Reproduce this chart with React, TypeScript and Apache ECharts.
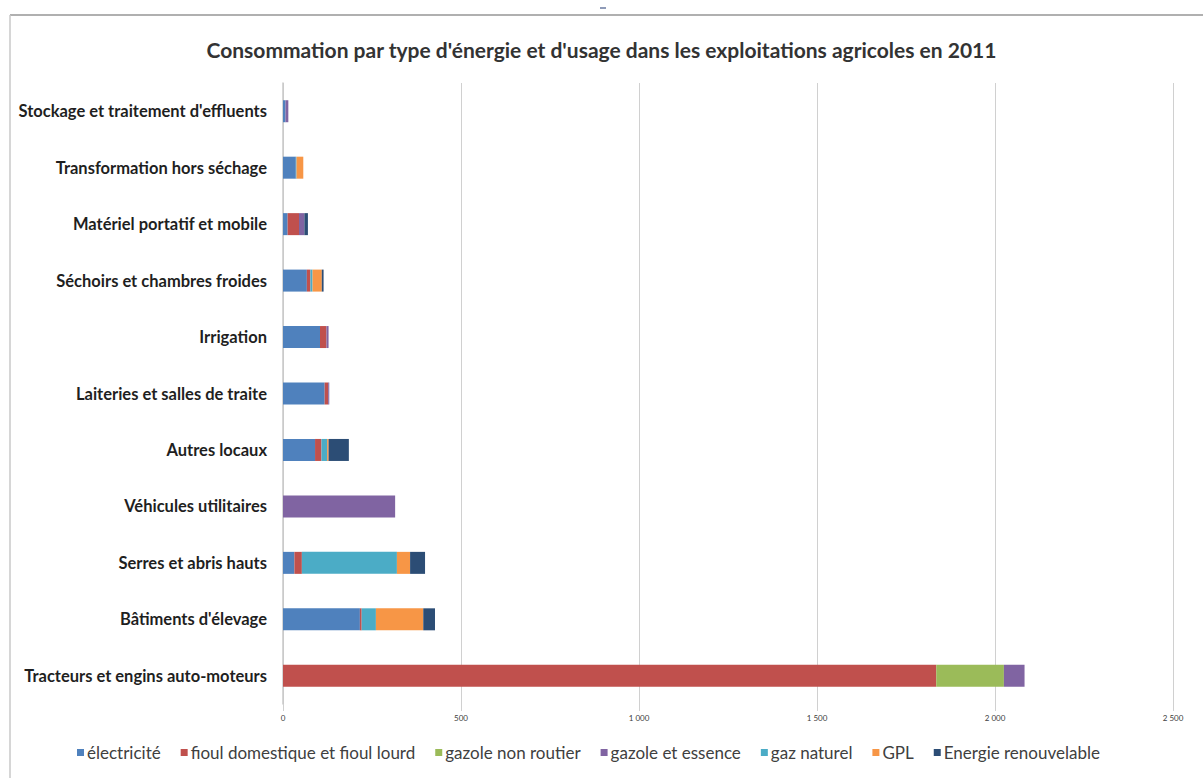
import React, { useEffect, useRef } from "react";
import * as echarts from "echarts";

const categories = [
  "Tracteurs et engins auto-moteurs",
  "Bâtiments d'élevage",
  "Serres et abris hauts",
  "Véhicules utilitaires",
  "Autres locaux",
  "Laiteries et salles de traite",
  "Irrigation",
  "Séchoirs et chambres froides",
  "Matériel portatif et mobile",
  "Transformation hors séchage",
  "Stockage et traitement d'effluents",
];

const electricite = [0, 216, 32, 0, 90, 117, 104, 67, 13, 36, 7];
const fioul = [1835, 5, 21, 0, 18, 10, 18, 10, 32, 0, 0];
const gazoleNonRoutier = [190, 0, 0, 0, 0, 0, 0, 0, 0, 0, 0];
const gazoleEssence = [58, 0, 0, 315, 0, 3, 6, 0, 15, 0, 8];
const gazNaturel = [0, 40, 267, 0, 16, 0, 0, 6, 0, 2, 0];
const gpl = [0, 133, 37, 0, 4, 0, 0, 26, 0, 19, 0];
const energieRenouvelable = [0, 33, 42, 0, 57, 0, 0, 5, 10, 0, 0];

const seriesDefs = [
  { name: "électricité", data: electricite, color: "#4f81bd" },
  { name: "fioul domestique et fioul lourd", data: fioul, color: "#c0504d" },
  { name: "gazole non routier", data: gazoleNonRoutier, color: "#9bbb59" },
  { name: "gazole et essence", data: gazoleEssence, color: "#8064a2" },
  { name: "gaz naturel", data: gazNaturel, color: "#4bacc6" },
  { name: "GPL", data: gpl, color: "#f79646" },
  { name: "Energie renouvelable", data: energieRenouvelable, color: "#2c4d75" },
];

const xMax = 2500;
const xInterval = 500;

function fmt(v: number): string {
  if (v >= 1000) {
    const th = Math.floor(v / 1000);
    const rest = String(v % 1000).padStart(3, "0");
    return th + " " + rest;
  }
  return String(v);
}

export default function App() {
  const ref = useRef<HTMLDivElement>(null);
  useEffect(() => {
    if (!ref.current) return;
    const chart = echarts.init(ref.current, undefined, { renderer: "svg" });
    chart.setOption({
      animation: false,
      backgroundColor: "#ffffff",
      title: {
        text: "Consommation par type d'énergie et d'usage dans les exploitations agricoles en 2011",
        left: "center",
        top: 34,
        textStyle: {
          fontFamily: "Lato",
          fontWeight: "bold",
          fontSize: 21,
          color: "#333333",
        },
      },
      legend: {
        bottom: 12,
        left: 72,
        itemWidth: 7,
        itemHeight: 7,
        itemGap: 20,
        icon: "rect",
        textStyle: { fontFamily: "Lato", fontSize: 17, color: "#404040", padding: [0, 0, 0, -2] },
        data: seriesDefs.map((s) => s.name),
      },
      grid: { left: 283, right: 30, top: 83, bottom: 74 },
      xAxis: {
        type: "value",
        min: 0,
        max: xMax,
        interval: xInterval,
        axisLine: { show: false },
        axisTick: { show: true, length: 7, lineStyle: { color: "#d0d0d0" } },
        splitLine: { show: true, lineStyle: { color: "#d0d0d0", width: 1 } },
        axisLabel: {
          fontFamily: "Lato",
          fontSize: 8,
          color: "#404040",
          margin: 10,
          formatter: (v: number) => fmt(v),
        },
      },
      yAxis: {
        type: "category",
        data: categories,
        axisLine: { show: true, lineStyle: { color: "#c8c8c8", width: 1.5 } },
        axisTick: { show: false },
        axisLabel: {
          fontFamily: "Lato",
          fontWeight: "bold",
          fontSize: 16.5,
          color: "#1f1f1f",
          margin: 16,
        },
      },
      series: seriesDefs.map((s) => ({
        name: s.name,
        type: "bar",
        stack: "total",
        barWidth: 22,
        data: s.data,
        itemStyle: { color: s.color },
      })),
      graphic: [
        {
          type: "line",
          shape: { x1: 10, y1: 15, x2: 1203, y2: 15 },
          style: { stroke: "#b0b0b0", lineWidth: 2 },
        },
        {
          type: "line",
          shape: { x1: 10, y1: 15, x2: 10, y2: 778 },
          style: { stroke: "#c8c8c8", lineWidth: 1.5 },
        },
        {
          type: "line",
          shape: { x1: 600, y1: 8, x2: 606, y2: 8 },
          style: { stroke: "#6a7aa0", lineWidth: 1.5 },
        },
      ],
    });
    return () => chart.dispose();
  }, []);
  return (
    <div
      ref={ref}
      style={{ position: "fixed", left: 0, top: 0, width: 1203, height: 778 }}
    />
  );
}
